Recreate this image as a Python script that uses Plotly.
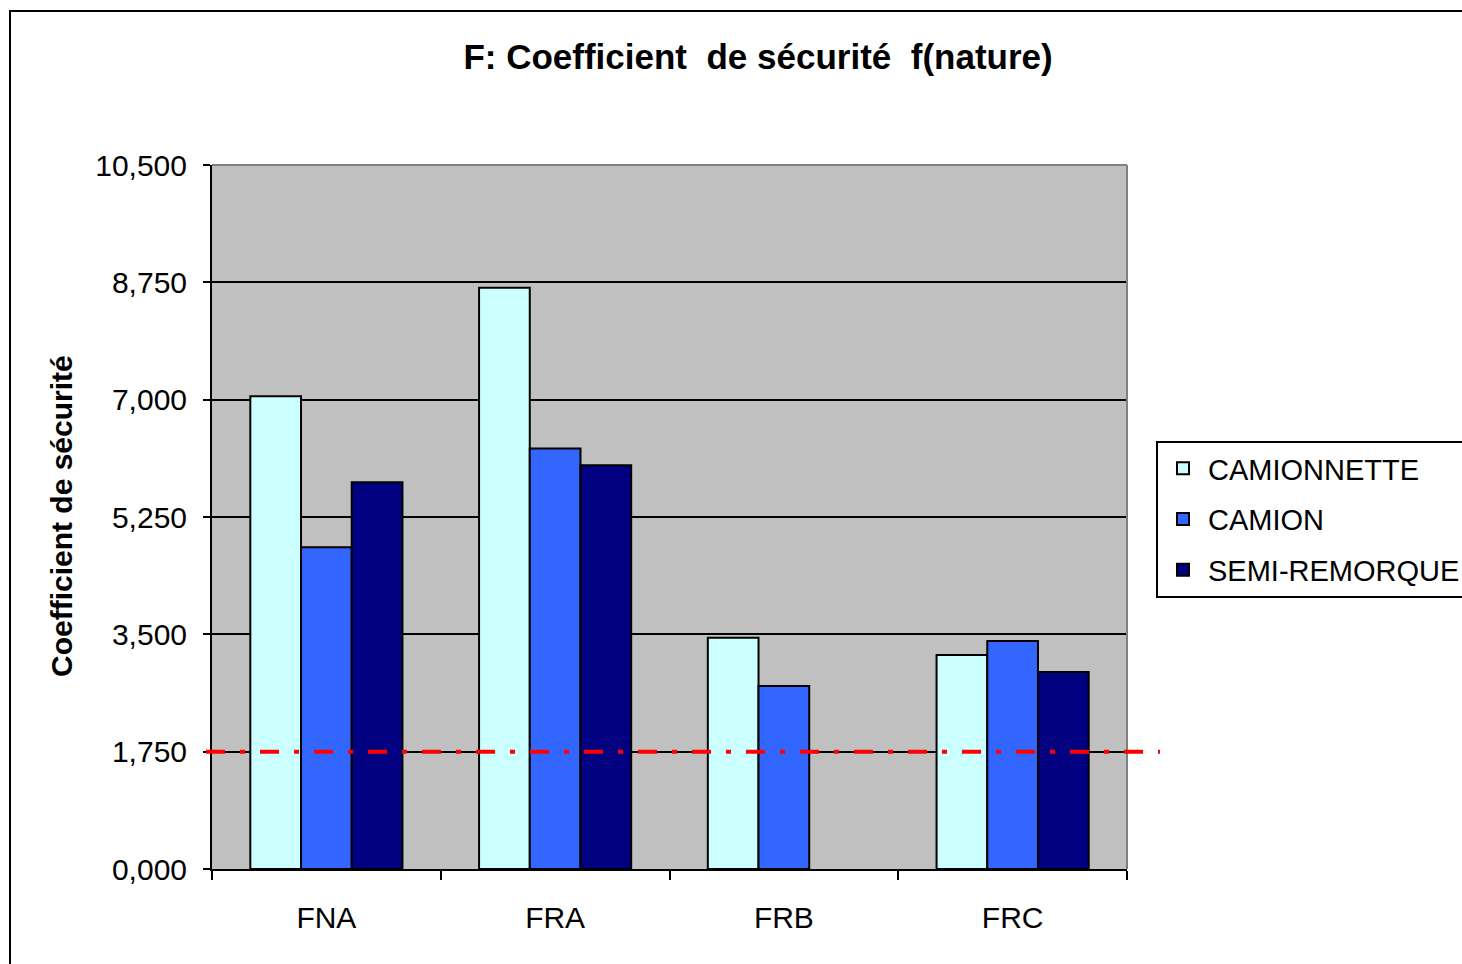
import plotly.graph_objects as go

categories = ["FNA", "FRA", "FRB", "FRC"]
camionnette = [7.05, 8.67, 3.45, 3.19]
camion = [4.80, 6.27, 2.73, 3.40]
semi_remorque = [5.77, 6.02, None, 2.94]
seuil = 1.75
y_ticks = [0, 1.75, 3.5, 5.25, 7.0, 8.75, 10.5]

FONT = "Arial, Liberation Sans, sans-serif"

series = [
    ("CAMIONNETTE", camionnette, "#CCFFFF"),
    ("CAMION", camion, "#3366FF"),
    ("SEMI-REMORQUE", semi_remorque, "#000080"),
]

fig = go.Figure()
for i, (name, vals, color) in enumerate(series):
    fig.add_trace(go.Bar(
        x=categories, y=vals, name=name, legendgroup=f"g{i}",
        marker=dict(color=color, line=dict(color="black", width=2)),
    ))

fig.update_layout(
    width=1462, height=964,
    margin=dict(l=212, r=335, t=165, b=95, autoexpand=False),
    paper_bgcolor="white",
    plot_bgcolor="#C0C0C0",
    separators=",.",
    barmode="group",
    bargap=0.335,
    bargroupgap=0,
    font=dict(family=FONT, size=29, color="black"),
    title=dict(
        text="<b>F: Coefficient&nbsp; de sécurité&nbsp; f(nature)</b>",
        x=0.5185, xref="container", xanchor="center",
        y=1 - 57 / 964, yref="container", yanchor="middle",
        font=dict(family=FONT, size=35, color="black"),
    ),
    legend=dict(
        x=1.0317, xanchor="left", y=0.608, yanchor="top",
        bgcolor="white", bordercolor="black", borderwidth=2,
        font=dict(family=FONT, size=29, color="black"),
        traceorder="grouped", tracegroupgap=10, itemwidth=40,
    ),
    xaxis=dict(
        showline=True, linecolor="black", linewidth=2,
        ticks="outside", tickson="boundaries", ticklen=9, tickwidth=2, tickcolor="black",
        showgrid=False, ticklabelstandoff=21,
        tickfont=dict(family=FONT, size=30, color="black"),
    ),
    yaxis=dict(
        range=[0, 10.5], tickvals=y_ticks, tickformat=".3f",
        showline=True, linecolor="black", linewidth=2,
        ticks="outside", ticklen=7, tickwidth=2, tickcolor="black",
        showgrid=True, gridcolor="black", gridwidth=2, zeroline=False,
        ticklabelstandoff=10,
        tickfont=dict(family=FONT, size=30, color="black"),
    ),
    annotations=[dict(
        text="<b>Coefficient de sécurité</b>", textangle=-90,
        xref="paper", yref="paper", x=(61 - 212) / 915, y=(869 - 516) / 704,
        xanchor="center", yanchor="middle", showarrow=False,
        font=dict(family=FONT, size=30, color="black"),
    )],
    showlegend=True,
)

# plot-area top/right grey border
fig.add_shape(type="line", xref="paper", yref="paper", x0=0, x1=1, y0=1, y1=1,
              line=dict(color="#808080", width=2), layer="above")
fig.add_shape(type="line", xref="paper", yref="paper", x0=1, x1=1, y0=0, y1=1,
              line=dict(color="#808080", width=2), layer="above")

# outer chart border
fig.add_shape(type="rect", xref="paper", yref="paper",
              x0=(10 - 212) / 915, x1=1.6, y0=-0.4, y1=1 + (165 - 11) / 704,
              line=dict(color="black", width=2), fillcolor="rgba(0,0,0,0)", layer="above")

# red dash-dot reference line
fig.add_shape(type="line", xref="paper", yref="y",
              x0=(206 - 212) / 915, x1=(1160 - 212) / 915, y0=seuil, y1=seuil,
              line=dict(color="red", width=4, dash="19px,15px,5px,15px"), layer="above")

fig.write_html("out.html", config={"displayModeBar": False},
               post_script="document.body.style.margin='0';")
